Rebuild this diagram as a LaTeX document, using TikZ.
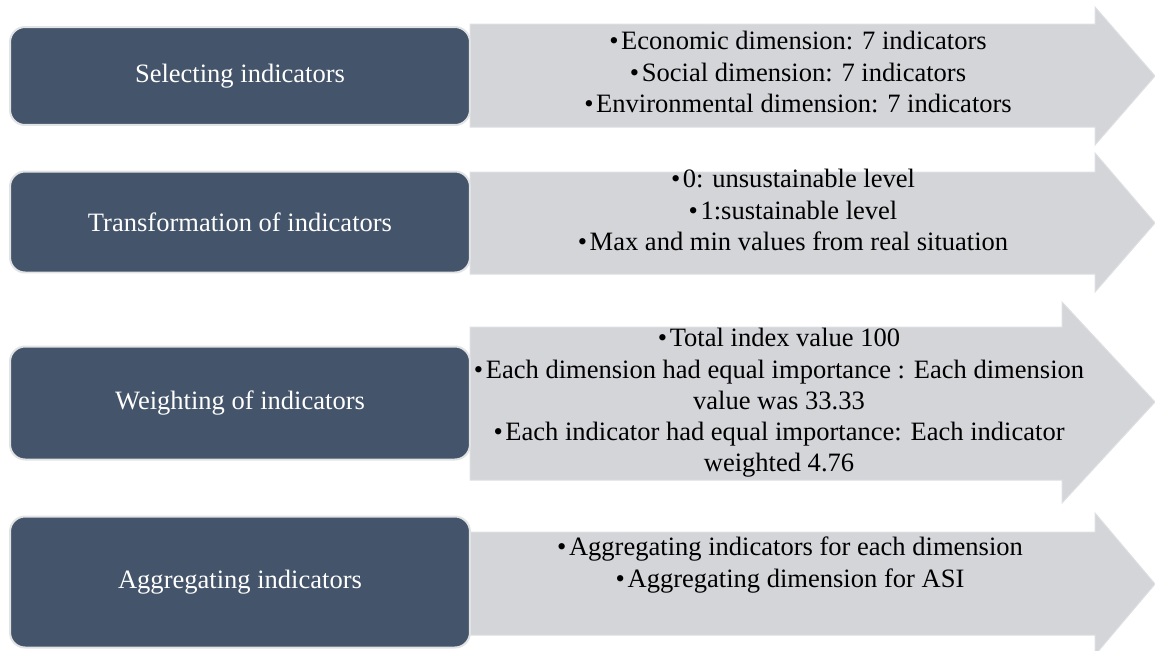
\documentclass[tikz,border=0pt]{standalone}
\usepackage{fontspec}
\setmainfont{Liberation Serif}
\usepackage{tikz}
\usetikzlibrary{positioning}
\definecolor{myslate}{RGB}{68,84,106}
\definecolor{myedge}{RGB}{226,227,229}
\definecolor{mygrey}{RGB}{212,213,217}
\definecolor{mygreyedge}{RGB}{222,223,226}
\newcommand{\itm}{•\kern1.5pt}
\tikzset{
  stepbox/.style={rectangle, draw=myedge, fill=myslate, text=white,
    minimum width=9.2cm, align=center, rounded corners=0.3cm,
    line width=0.04cm, font=\fontsize{15.1}{17.8}\selectfont},
  itemtext/.style={align=center, text=black, inner sep=0pt,
    font=\fontsize{15.1}{17.8}\selectfont},
  flowarrow/.style={fill=mygrey, draw=mygreyedge, line width=0.02cm}
}

\begin{document}
\begin{tikzpicture}[x=0.02cm, y=-0.02cm]
  \useasboundingbox (0,0) rectangle (1155,650);

  % grey arrows behind the boxes
  \filldraw[flowarrow] (470,24) -- (1095,24) -- (1095,7) -- (1155,76)
    -- (1095,145) -- (1095,127) -- (470,127) -- cycle;
  \filldraw[flowarrow] (470,172) -- (1095,172) -- (1095,153) -- (1155,223)
    -- (1095,292) -- (1095,274) -- (470,274) -- cycle;
  \filldraw[flowarrow] (470,327) -- (1062,327) -- (1062,302) -- (1155,402)
    -- (1062,503) -- (1062,480) -- (470,480) -- cycle;
  \filldraw[flowarrow] (470,532) -- (1095,532) -- (1095,513) -- (1155,584)
    -- (1095,655) -- (1095,635) -- (470,635) -- cycle;

  % steps
  \node[stepbox, minimum height=1.96cm] (sel) at (240,76) {Selecting indicators};
  \node[stepbox, minimum height=2.02cm] (tra) at (240,222) {Transformation of indicators};
  \node[stepbox, minimum height=2.26cm] (wei) at (240,403) {Weighting of indicators};
  \node[stepbox, minimum height=2.62cm] (agg) at (240,582) {Aggregating indicators};

  % bullet lists
  \node[itemtext] (selitems) at (798,72) {\itm Economic dimension: 7 indicators\\
    \itm Social dimension: 7 indicators\\\itm Environmental dimension: 7 indicators};
  \node[itemtext] (traitems) at (793,210) {\itm 0: unsustainable level\\
    \itm 1:sustainable level\\\itm Max and min values from real situation};
  \node[itemtext] (weiitems) at (779,403) {\itm Total index value 100\\
    \itm Each dimension had equal importance : Each dimension\\value was 33.33\\
    \itm Each indicator had equal importance: Each indicator\\weighted 4.76};
  \node[itemtext, font=\fontsize{15.1}{18.6}\selectfont] (aggitems) at (790,565)
    {\itm Aggregating indicators for each dimension\\
    \itm Aggregating dimension for ASI};
\end{tikzpicture}
\end{document}
